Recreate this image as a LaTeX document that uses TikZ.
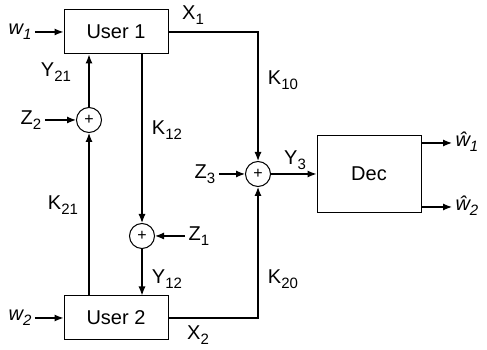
\documentclass[tikz,border=0pt]{standalone}
\usepackage{fontspec}
\setmainfont{Liberation Sans}
\usetikzlibrary{positioning}
\usetikzlibrary{arrows.meta}
\newcommand{\sig}[2]{#1\raisebox{-0.45ex}{\fontsize{15}{15}\selectfont #2}}
\newcommand{\sigit}[2]{\textit{#1\raisebox{-0.45ex}{\fontsize{15}{15}\selectfont #2}}}

\begin{document}
\begin{tikzpicture}[
    x=1pt, y=1pt,
    >={Latex[length=9pt,width=7pt]},
    every node/.style={font=\fontsize{20}{23}\selectfont},
    block/.style={draw, line width=1pt, minimum width=104pt, minimum height=44pt, inner sep=0pt},
    adder/.style={draw, circle, line width=1pt, minimum size=25pt, inner sep=0pt, font=\fontsize{16}{16}\selectfont},
    link/.style={->, line width=1.2pt}
]
\useasboundingbox (0,0) rectangle (487,350);
\node[block] (user1) at (116,318) {User 1};
\node[block] (user2) at (116,32) {User 2};
\node[block, minimum height=77pt] (dec) at (369,176) {Dec};
\node[adder] (add2) at (89,230) {+};
\node[adder] (add1) at (142,114) {+};
\node[adder] (add3) at (258,176) {+};
% inputs and noise
\node (w1) at (20,318) {\sigit{w}{1}};
\node (w2) at (20,32) {\sigit{w}{2}};
\node (z2) at (31,230) {\sig{Z}{2}};
\node (z1) at (199,114) {\sig{Z}{1}};
\node (z3) at (205,176) {\sig{Z}{3}};
% outputs
\coordinate (out1) at (452,207);
\coordinate (out2) at (452,143);
\node[anchor=west] (w1hat) at (452,208) {\sigit{\^{w}}{1}};
\node[anchor=west] (w2hat) at (452,144) {\sigit{\^{w}}{2}};
% channel labels
\node at (193,335) {\sig{X}{1}};
\node at (198,15) {\sig{X}{2}};
\node at (283,270) {\sig{K}{10}};
\node at (283,71) {\sig{K}{20}};
\node at (167,220) {\sig{K}{12}};
\node at (63,145) {\sig{K}{21}};
\node at (56,278) {\sig{Y}{21}};
\node at (167,71) {\sig{Y}{12}};
\node at (295,190) {\sig{Y}{3}};
\draw[link] (w1) -- (user1);
\draw[link] (w2) -- (user2);
\draw[link] (z2) -- (add2);
\draw[link] (z1) -- (add1);
\draw[link] (z3) -- (add3);
\draw[link] (user1.east) -| (add3.north);
\draw[link] (user2.east) -| (add3.south);
\draw[link] (add3) -- (dec);
\draw[link] (user1.south -| add1) -- (add1);
\draw[link] (add1) -- (user2.north -| add1);
\draw[link] (user2.north -| add2) -- (add2);
\draw[link] (add2) -- (user1.south -| add2);
\draw[link] (dec.east |- out1) -- (out1);
\draw[link] (dec.east |- out2) -- (out2);
\end{tikzpicture}
\end{document}
